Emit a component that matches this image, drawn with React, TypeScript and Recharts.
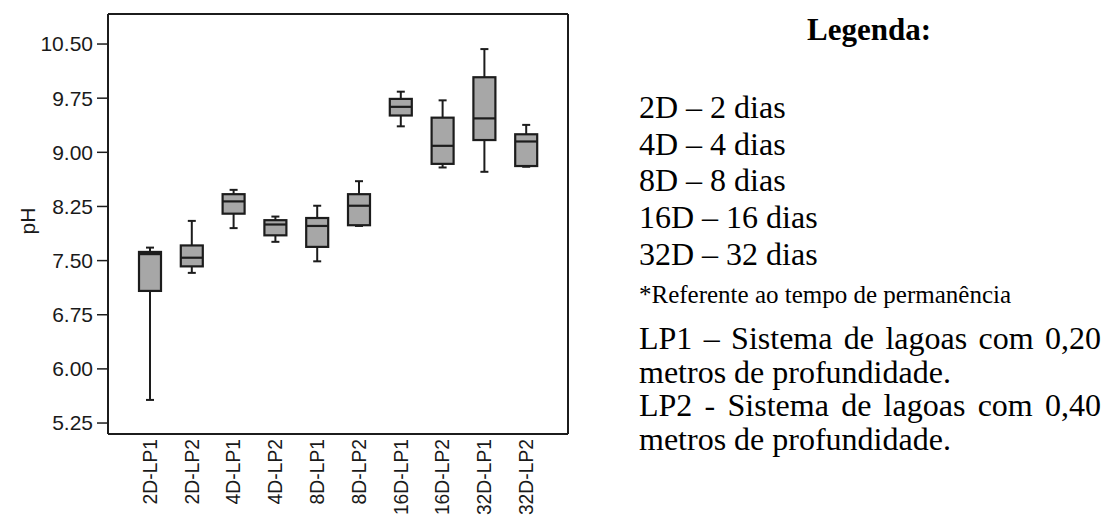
import React from 'react';
import { ComposedChart, Bar, XAxis, YAxis, CartesianGrid } from 'recharts';

const categories = ['2D-LP1', '2D-LP2', '4D-LP1', '4D-LP2', '8D-LP1', '8D-LP2', '16D-LP1', '16D-LP2', '32D-LP1', '32D-LP2'];
const whiskerHigh = [7.68, 8.05, 8.48, 8.11, 8.26, 8.6, 9.84, 9.72, 10.43, 9.38];
const q3Values = [7.62, 7.71, 8.42, 8.06, 8.09, 8.42, 9.74, 9.48, 10.04, 9.25];
const medianValues = [7.59, 7.54, 8.32, 8.0, 7.98, 8.26, 9.63, 9.09, 9.47, 9.15];
const q1Values = [7.08, 7.42, 8.15, 7.85, 7.69, 7.99, 9.51, 8.84, 9.17, 8.81];
const whiskerLow = [5.57, 7.33, 7.95, 7.76, 7.49, 7.98, 9.36, 8.79, 8.73, 8.8];
const yTicks = [5.25, 6.0, 6.75, 7.5, 8.25, 9.0, 9.75, 10.5];

const legendTitle = 'Legenda:';
const legendDays = ['2D – 2 dias', '4D – 4 dias', '8D – 8 dias', '16D – 16 dias', '32D – 32 dias'];
const legendNote = '*Referente ao tempo de permanência';
const legendSystems = [
  'LP1 – Sistema de lagoas com 0,20 metros de profundidade.',
  'LP2 - Sistema de lagoas com 0,40 metros de profundidade.',
];

const data = categories.map((name, i) => ({
  name,
  min: whiskerLow[i],
  q1: q1Values[i],
  median: medianValues[i],
  q3: q3Values[i],
  max: whiskerHigh[i],
}));

const STROKE = '#1c1c1c';
const FILL = '#a7a7a7';
const AXIS_FONT = '"Liberation Sans", Arial, sans-serif';
const SERIF = '"Liberation Serif", "Times New Roman", serif';

const BoxShape = (props: any) => {
  const { x, y, width, height, payload } = props;
  if (x == null || y == null || !payload) return null;
  const top = Math.min(y, y + height);
  const h = Math.abs(height);
  const { min, q1, median, q3, max } = payload;
  const span = max - min || 1;
  const py = (v: number) => top + ((max - v) / span) * h;
  const cx = x + width / 2;
  const cap = 4;
  return (
    <g>
      <line x1={cx} x2={cx} y1={py(max)} y2={py(q3)} stroke={STROKE} strokeWidth={2} />
      <line x1={cx} x2={cx} y1={py(q1)} y2={py(min)} stroke={STROKE} strokeWidth={2} />
      <line x1={cx - cap} x2={cx + cap} y1={py(max)} y2={py(max)} stroke={STROKE} strokeWidth={2} />
      <line x1={cx - cap} x2={cx + cap} y1={py(min)} y2={py(min)} stroke={STROKE} strokeWidth={2} />
      <rect x={x} y={py(q3)} width={width} height={py(q1) - py(q3)} fill={FILL} stroke={STROKE} strokeWidth={2.2} />
      <line x1={x} x2={x + width} y1={py(median)} y2={py(median)} stroke={STROKE} strokeWidth={2.2} />
    </g>
  );
};

const XTick = (props: any) => {
  const { x, y, payload } = props;
  return (
    <text
      x={x}
      y={y}
      transform={`rotate(-90, ${x}, ${y})`}
      textAnchor="end"
      dy="0.36em"
      fontSize={19.3}
      fontFamily={AXIS_FONT}
      fill="#1a1a1a"
    >
      {payload.value}
    </text>
  );
};

const YLabel = (props: any) => {
  const { viewBox } = props;
  const cy = viewBox.y + viewBox.height / 2 - 3;
  const cx = 27;
  return (
    <text
      x={cx}
      y={cy}
      transform={`rotate(-90, ${cx}, ${cy})`}
      textAnchor="middle"
      dy="0.36em"
      fontSize={21}
      fontFamily={AXIS_FONT}
      fill="#1a1a1a"
    >
      pH
    </text>
  );
};

export default function App() {
  return (
    <div style={{ position: 'absolute', left: 0, top: 0, width: 1104, height: 518, background: '#fff', overflow: 'hidden' }}>
      <ComposedChart width={580} height={518} data={data} margin={{ top: 14, right: 12, bottom: 0, left: 0 }}>
        <CartesianGrid
          stroke={STROKE}
          strokeWidth={2}
          fill="none"
          horizontalCoordinatesGenerator={({ offset }: any) => [offset.top, offset.top + offset.height]}
          verticalCoordinatesGenerator={({ offset }: any) => [offset.left, offset.left + offset.width]}
        />
        <XAxis
          dataKey="name"
          type="category"
          padding={{ left: 21, right: 21 }}
          height={84}
          interval={0}
          tickLine={false}
          tickSize={0}
          tickMargin={5}
          tick={<XTick />}
          axisLine={{ stroke: STROKE, strokeWidth: 2 }}
        />
        <YAxis
          type="number"
          domain={[5.098, 10.916]}
          ticks={yTicks}
          allowDataOverflow
          width={108}
          tickSize={11}
          tickMargin={4}
          tickFormatter={(v: number) => v.toFixed(2)}
          tick={{ fontSize: 21, fill: '#1a1a1a', fontFamily: AXIS_FONT }}
          tickLine={{ stroke: STROKE, strokeWidth: 1.5 }}
          axisLine={{ stroke: STROKE, strokeWidth: 2 }}
          label={<YLabel />}
        />
        <Bar dataKey={(d: any) => [d.min, d.max]} barSize={22} shape={<BoxShape />} isAnimationActive={false} />
      </ComposedChart>

      <div
        style={{
          position: 'absolute', left: 769, top: 12.5, width: 200, textAlign: 'center',
          fontFamily: SERIF, fontSize: 31, fontWeight: 'bold', lineHeight: '34.3px', color: '#000',
        }}
      >
        {legendTitle}
      </div>
      <div
        style={{
          position: 'absolute', left: 639, top: 88.8, width: 460,
          fontFamily: SERIF, fontSize: 32, lineHeight: '36.7px', color: '#000',
        }}
      >
        {legendDays.map((t) => (
          <div key={t}>{t}</div>
        ))}
      </div>
      <div
        style={{
          position: 'absolute', left: 639, top: 281, width: 465,
          fontFamily: SERIF, fontSize: 25, lineHeight: '27.7px', color: '#000', whiteSpace: 'nowrap',
        }}
      >
        {legendNote}
      </div>
      <div
        style={{
          position: 'absolute', left: 639, top: 322, width: 462,
          fontFamily: SERIF, fontSize: 32, lineHeight: '33.5px', color: '#000', textAlign: 'justify',
        }}
      >
        {legendSystems.map((t) => (
          <div key={t}>{t}</div>
        ))}
      </div>
    </div>
  );
}
